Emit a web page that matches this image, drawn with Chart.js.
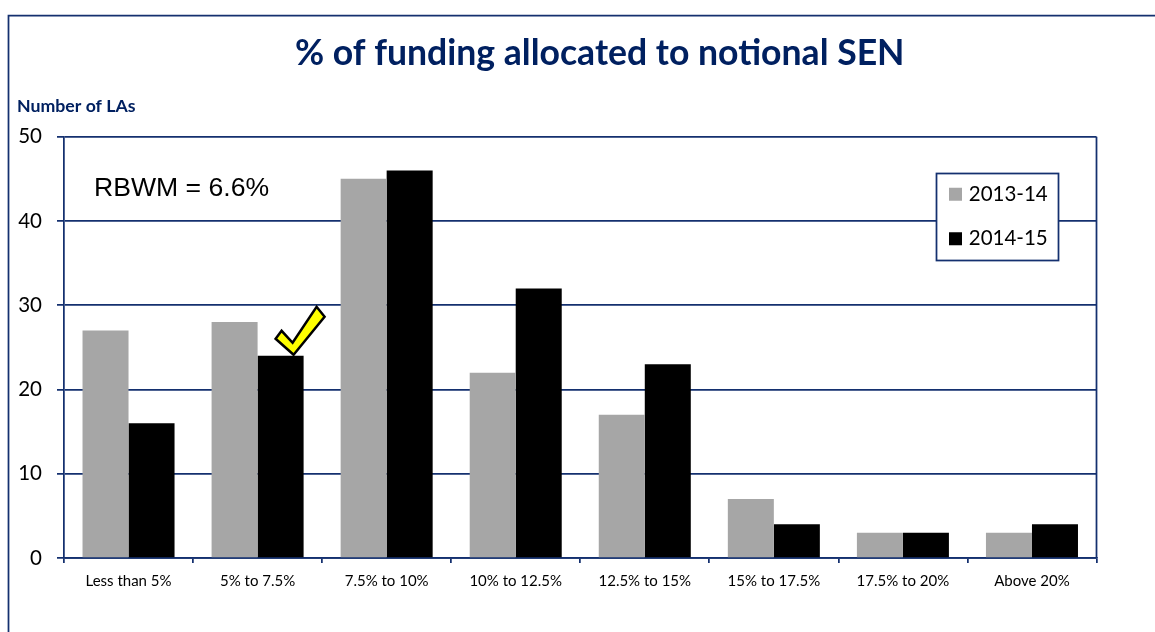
<!DOCTYPE html>
<html><head><meta charset="utf-8">
<style>html,body{margin:0;padding:0;background:#fff}canvas{display:block}</style>
<script src="https://cdn.jsdelivr.net/npm/chart.js@4"></script></head>
<body><canvas id="c" width="1155" height="632"></canvas>
<script>
const categories = ["Less than 5%","5% to 7.5%","7.5% to 10%","10% to 12.5%","12.5% to 15%","15% to 17.5%","17.5% to 20%","Above 20%"];
const series2013 = [27,28,45,22,17,7,3,3];
const series2014 = [16,24,46,32,23,4,3,4];
const seriesNames = ["2013-14","2014-15"];
const yTicks = [0,10,20,30,40,50];
const titleText = "% of funding allocated to notional SEN";
const yAxisText = "Number of LAs";
const noteText = "RBWM = 6.6%";
const NAVY = "#002060", LINE = "#14306f";
const BODY = "Lato, 'Open Sans', sans-serif";

const overlay = {
  id:"overlay",
  beforeLayout(chart){
    const l = chart.legend;
    l._layers = () => [{z:1, draw(area){
      const c = chart.ctx; c.save();
      c.fillStyle="#fff"; c.fillRect(936.5,173.5,122,87);
      c.strokeStyle=LINE; c.lineWidth=1.75; c.strokeRect(936.5,173.5,122,87);
      c.restore();
      l.draw(area);
    }}];
  },
  afterLayout(chart){
    const t = chart.titleBlock;
    t.left += 51.5; t.right += 51.5;
    const l = chart.legend;
    l.left = 928.5; l.top = 160; l.right = 1058; l.bottom = 296; l.width = 129.5; l.height = 136;
    l.legendHitBoxes.forEach((b,i)=>{ b.left = 952.5; b.top = 184 + i*44; });
  },
  beforeDraw(chart){
    const c = chart.ctx; c.save();
    c.strokeStyle = LINE; c.lineWidth = 1.75;
    c.beginPath(); c.moveTo(8.5,632); c.lineTo(8.5,15.5); c.lineTo(1155,15.5); c.stroke();
    c.fillStyle = NAVY; c.font = "bold 17.7px "+BODY; c.textBaseline = "middle"; c.textAlign="left";
    c.fillText(yAxisText,17,106);
    c.restore();
  },
  afterDatasetsDraw(chart){
    const c = chart.ctx, a = chart.chartArea; c.save();
    c.strokeStyle = LINE; c.lineWidth = 1.75;
    c.beginPath(); c.moveTo(a.right,a.top); c.lineTo(a.right,a.bottom); c.stroke();
    c.fillStyle = "#000"; c.font = "26.6px 'Liberation Sans', Arial, sans-serif";
    c.textBaseline="middle"; c.textAlign="left";
    c.fillText(noteText,94,188.5);
    // tick mark anchored above the second category's 2014-15 bar
    const bar = chart.getDatasetMeta(1).data[1];
    const ox = bar.x, oy = bar.y;
    const tick = [[13,-1],[-5,-17],[1,-25],[12,-13],[36,-49],[44,-39]];
    c.beginPath(); tick.forEach((p,i)=> i? c.lineTo(ox+p[0],oy+p[1]) : c.moveTo(ox+p[0],oy+p[1])); c.closePath();
    c.fillStyle="#ffff00"; c.fill(); c.strokeStyle="#000"; c.lineWidth=2.5; c.stroke();
    c.restore();
  }
};

new Chart(document.getElementById("c"),{
  type:"bar",
  data:{labels:categories,datasets:[
    {label:seriesNames[0],data:series2013,backgroundColor:"#a6a6a6",borderWidth:0},
    {label:seriesNames[1],data:series2014,backgroundColor:"#000000",borderWidth:0}
  ]},
  plugins:[overlay],
  options:{
    responsive:false,animation:false,
    layout:{padding:{left:0,right:58.5,top:0,bottom:0}},
    datasets:{bar:{categoryPercentage:0.713,barPercentage:1}},
    plugins:{
      title:{display:true,text:titleText,color:NAVY,font:{family:BODY,size:35.6,weight:"bold"},padding:{top:32,bottom:62}},
      legend:{position:"chartArea",align:"start",labels:{usePointStyle:true,pointStyle:"rect",boxWidth:6,boxHeight:13,padding:24,color:"#000",font:{family:BODY,size:20.5}}},
      tooltip:{enabled:false}
    },
    scales:{
      x:{
        afterFit(s){s.height=74;},
        grid:{offset:true,drawOnChartArea:false,color:LINE,lineWidth:1.75,tickLength:5,drawTicks:true},
        border:{color:LINE,width:1.75},
        ticks:{color:"#000",font:{family:BODY,size:15},padding:9,maxRotation:0,autoSkip:false}
      },
      y:{
        min:0,max:50,
        afterFit(s){s.width=64;},
        afterBuildTicks(s){s.ticks=yTicks.map(v=>({value:v}));},
        grid:{color:LINE,lineWidth:1.75,tickLength:7},
        border:{color:LINE,width:1.75},
        ticks:{color:"#000",font:{family:BODY,size:20.5},padding:15}
      }
    }
  }
});
</script></body></html>
